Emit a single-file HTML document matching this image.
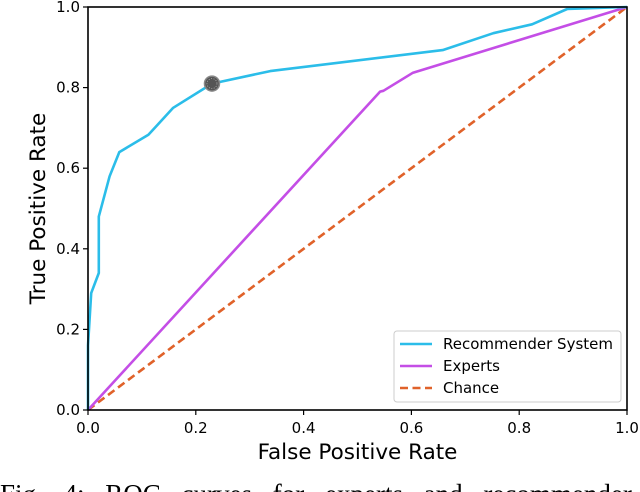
<!DOCTYPE html>
<html><head><meta charset="utf-8"><style>
html,body{margin:0;padding:0;background:#fff;width:640px;height:492px;overflow:hidden}
svg{display:block}
text{font-family:"DejaVu Sans","Liberation Sans",sans-serif;fill:#000}
</style></head><body>
<svg id="chart" width="640" height="492" viewBox="0 0 640 492">
<g id="marks"></g>
<g id="axes"></g>
<text x="0" y="503" style="font-family:'Liberation Serif',serif;font-size:27px;word-spacing:14px">Fig. 4:  ROC curves for experts and recommender</text>
</svg>
<script>
const recFpr=[0,0,0.006,0.02,0.02,0.04,0.058,0.112,0.158,0.23,0.338,0.658,0.752,0.824,0.889,1.0];
const recTpr=[0,0.16,0.29,0.34,0.48,0.58,0.64,0.683,0.75,0.81,0.841,0.893,0.935,0.957,0.995,1.0];
const expFpr=[0,0.542,0.548,0.603,1.0];
const expTpr=[0,0.79,0.792,0.837,1.0];
const chanceFpr=[0,1];
const chanceTpr=[0,1];
const opPoint=[0.23,0.81];
const ticks=[0,0.2,0.4,0.6,0.8,1.0];
const tickLabels=["0.0","0.2","0.4","0.6","0.8","1.0"];

const X0=88,X1=627,Y0=410,Y1=7;
const sx=v=>X0+v*(X1-X0);
const sy=v=>Y0-v*(Y0-Y1);
const NS="http://www.w3.org/2000/svg";
const marks=document.getElementById('marks'),axes=document.getElementById('axes');
function mk(tag,attrs,parent){const e=document.createElementNS(NS,tag);for(const k in attrs)e.setAttribute(k,attrs[k]);parent.appendChild(e);return e;}
function pts(xs,ys){return xs.map((x,i)=>sx(x).toFixed(1)+','+sy(ys[i]).toFixed(1)).join(' ');}

let p=mk('polyline',{points:pts(chanceFpr,chanceTpr),fill:'none',stroke:'#e0622a','stroke-width':2.6,'stroke-dasharray':'8,4.5'},marks);


p=mk('polyline',{points:pts(expFpr,expTpr),fill:'none',stroke:'#c44ee6','stroke-width':2.6,'stroke-linejoin':'round'},marks);


p=mk('polyline',{points:pts(recFpr,recTpr),fill:'none',stroke:'#2bbde9','stroke-width':2.6,'stroke-linejoin':'round'},marks);


p=mk('circle',{cx:sx(opPoint[0]),cy:sy(opPoint[1]),r:7.5,fill:'#555',stroke:'#888','stroke-width':1.5},marks);


mk('circle',{cx:sx(opPoint[0]),cy:sy(opPoint[1]),r:5,fill:'none',stroke:'#bbb','stroke-width':0.7,'stroke-dasharray':'1,1.5'},marks);

p=mk('rect',{x:X0,y:Y1,width:X1-X0,height:Y0-Y1,fill:'none',stroke:'#000','stroke-width':1.6},axes);


ticks.forEach((t,i)=>{
  mk('line',{x1:sx(t),x2:sx(t),y1:Y0,y2:Y0+5,stroke:'#000','stroke-width':1.2},axes);
  let tx=mk('text',{x:sx(t),y:Y0+23,'text-anchor':'middle','font-size':15},axes);
  tx.textContent=tickLabels[i];
  
  
  mk('line',{x1:X0-5,x2:X0,y1:sy(t),y2:sy(t),stroke:'#000','stroke-width':1.2},axes);
  let ty=mk('text',{x:X0-8,y:sy(t)+5,'text-anchor':'end','font-size':15},axes);
  ty.textContent=tickLabels[i];
  
  
});
let xl=mk('text',{x:(X0+X1)/2,y:459,'text-anchor':'middle','font-size':21.5},axes);
xl.textContent='False Positive Rate';


let yl=mk('text',{x:0,y:0,'text-anchor':'middle','font-size':21.5,transform:'translate(45,'+((Y0+Y1)/2)+') rotate(-90)'},axes);
yl.textContent='True Positive Rate';



const lg=mk('g',{},axes);


mk('rect',{x:394,y:331,width:227,height:71,rx:3,fill:'#fff','fill-opacity':0.85,stroke:'#ccc','stroke-width':1},lg);
const legNames=['Recommender System','Experts','Chance'];
const legColors=['#2bbde9','#c44ee6','#e0622a'];
legNames.forEach((n,i)=>{
  const y=344+i*22;
  let l=mk('line',{x1:400,x2:432,y1:y,y2:y,stroke:legColors[i],'stroke-width':2.6},lg);
  if(i===2)l.setAttribute('stroke-dasharray','8,4.5');
  let t=mk('text',{x:443,y:y+5,'font-size':15},lg);
  t.textContent=n;
  
  
});
</script>
</body></html>
